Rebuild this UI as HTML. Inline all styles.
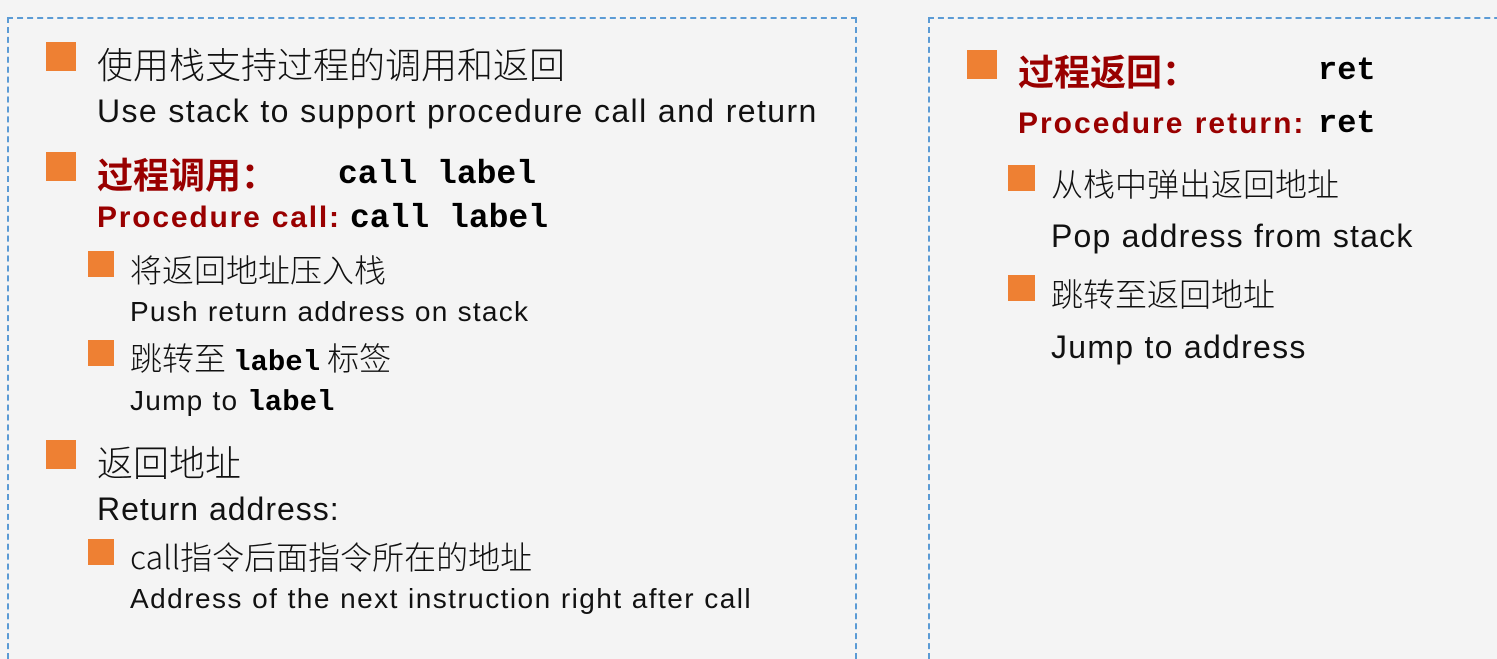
<!DOCTYPE html>
<html><head><meta charset="utf-8"><style>
html,body{margin:0;padding:0}
body{width:1497px;height:645px;background:#f4f4f4;position:relative;overflow:hidden;font-family:"Liberation Sans","Noto Sans CJK SC",sans-serif;color:#111}
.box{position:absolute;border:2px dashed #5b9bd5;border-bottom:none}
.b{position:absolute;background:#ee8033}
.t{position:absolute;white-space:nowrap;line-height:1}
.r{color:#990000;font-weight:bold}
.m{font-family:"Liberation Mono","DejaVu Sans Mono",monospace;font-weight:bold;color:#000;letter-spacing:0}
.cj{font-family:"Noto Sans CJK SC",sans-serif;font-weight:300}
</style></head><body>
<div class="box" style="left:7px;top:17px;width:846px;height:640px"></div>
<div class="box" style="left:928px;top:17px;width:600px;height:640px;border-right:none"></div>

<div class="b" style="left:46px;top:42px;width:30px;height:29px"></div>
<div class="t cj" style="left:97px;top:45px;font-size:36px">使用栈支持过程的调用和返回</div>
<div class="t" style="left:97px;top:95px;font-size:32px;letter-spacing:1.4px">Use stack to support procedure call and return</div>

<div class="b" style="left:46px;top:152px;width:30px;height:29px"></div>
<div class="t r" style="left:97px;top:155px;font-size:36px;font-family:'Noto Sans CJK SC',sans-serif">过程调用：</div>
<div class="t m" style="left:338px;top:158px;font-size:33px">call label</div>
<div class="t r" style="left:97px;top:203px;font-size:30px;letter-spacing:1.8px">Procedure call:</div>
<div class="t m" style="left:350px;top:202px;font-size:33px">call label</div>

<div class="b" style="left:88px;top:251px;width:26px;height:26px"></div>
<div class="t cj" style="left:130px;top:253px;font-size:32px">将返回地址压入栈</div>
<div class="t" style="left:130px;top:298px;font-size:28px;letter-spacing:1.25px">Push return address on stack</div>

<div class="b" style="left:88px;top:340px;width:26px;height:26px"></div>
<div class="t cj" style="left:130px;top:341px;font-size:32px">跳转至 <span class="m" style="font-size:29px">label</span> 标签</div>
<div class="t" style="left:130px;top:387px;font-size:28px;letter-spacing:1.25px">Jump to <span class="m" style="font-size:29px">label</span></div>

<div class="b" style="left:46px;top:440px;width:30px;height:29px"></div>
<div class="t cj" style="left:97px;top:443px;font-size:36px">返回地址</div>
<div class="t" style="left:97px;top:493px;font-size:32px;letter-spacing:1px">Return address:</div>

<div class="b" style="left:88px;top:539px;width:26px;height:26px"></div>
<div class="t cj" style="left:130px;top:540px;font-size:32px">call指令后面指令所在的地址</div>
<div class="t" style="left:130px;top:585px;font-size:28px;letter-spacing:1.45px">Address of the next instruction right after call</div>

<div class="b" style="left:967px;top:50px;width:30px;height:29px"></div>
<div class="t r" style="left:1018px;top:52px;font-size:36px;font-family:'Noto Sans CJK SC',sans-serif">过程返回：</div>
<div class="t m" style="left:1318px;top:55px;font-size:32px">ret</div>
<div class="t r" style="left:1018px;top:109px;font-size:30px;letter-spacing:2px">Procedure return:</div>
<div class="t m" style="left:1318px;top:108px;font-size:32px">ret</div>

<div class="b" style="left:1008px;top:165px;width:27px;height:26px"></div>
<div class="t cj" style="left:1051px;top:167px;font-size:32px">从栈中弹出返回地址</div>
<div class="t" style="left:1051px;top:220px;font-size:32px;letter-spacing:1.2px">Pop address from stack</div>

<div class="b" style="left:1008px;top:275px;width:27px;height:26px"></div>
<div class="t cj" style="left:1051px;top:277px;font-size:32px">跳转至返回地址</div>
<div class="t" style="left:1051px;top:331px;font-size:32px;letter-spacing:1.27px">Jump to address</div>
</body></html>
